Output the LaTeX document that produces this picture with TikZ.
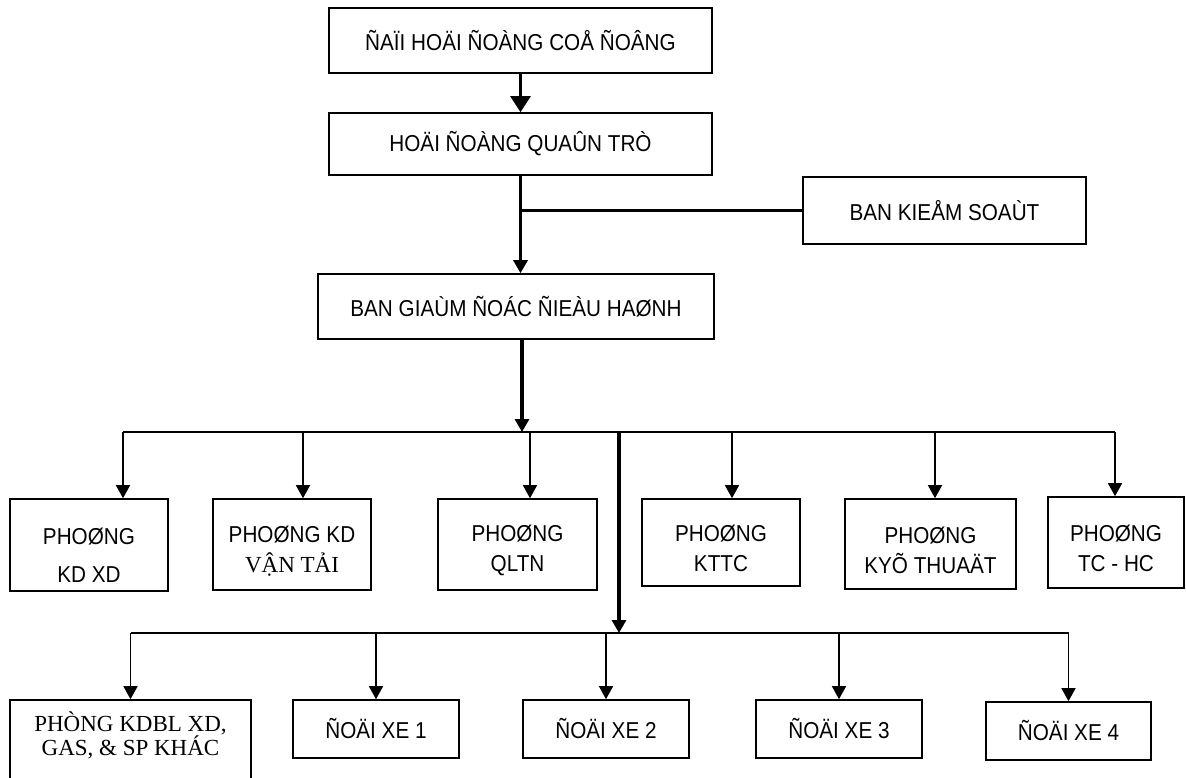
\documentclass[tikz,border=0pt]{standalone}
\usepackage{fontspec}
\setmainfont{Liberation Sans}[FakeStretch=0.9]
\newfontfamily\timesfont{Liberation Serif}
\usetikzlibrary{arrows.meta,positioning,calc}
\tikzset{
  unit/.style={draw,line width=1.6pt,inner sep=0pt,align=center,font=\fontsize{23}{30}\selectfont},
  twoline/.style={text height=59pt},
  link/.style={line width=1.5pt},
  trunk/.style={line width=3.2pt},
  tip/.style={-{Triangle[length=13pt,width=14pt]}},
}
\begin{document}
\begin{tikzpicture}[x=1pt,y=-1pt]
  \useasboundingbox (0,0) rectangle (1186,778);
  \node[unit,minimum width=383pt,minimum height=65pt] (dhcd) at (520.5,40.5) {ÑAÏI HOÄI ÑOÀNG COÅ ÑOÂNG};
  \node[unit,minimum width=383pt,minimum height=62pt] (hdqt) at (520.5,144) {HOÄI ÑOÀNG QUAÛN TRÒ};
  \node[unit,minimum width=283pt,minimum height=67pt] (bks) at (944.5,210.5) {BAN KIEÅM SOAÙT};
  \node[unit,minimum width=396pt,minimum height=65pt] (bgd) at (516,306.5) {BAN GIAÙM ÑOÁC ÑIEÀU HAØNH};

  \node[unit,text height=75pt,minimum width=158pt,minimum height=92pt] (kdxd) at (89,545) {PHOØNG\\[8pt]KD XD};
  \node[unit,twoline,minimum width=158pt,minimum height=91pt] (kdvt) at (292,544.5) {PHOØNG KD\\{\timesfont\fontsize{23}{30}\selectfont VẬN TẢI}};
  \node[unit,twoline,minimum width=159pt,minimum height=91pt] (qltn) at (517.5,544.5) {PHOØNG\\QLTN};
  \node[unit,twoline,minimum width=158pt,minimum height=87pt] (kttc) at (721,542.5) {PHOØNG\\KTTC};
  \node[unit,twoline,minimum width=171pt,minimum height=90pt] (kyt) at (930.5,544) {PHOØNG\\KYÕ THUAÄT};
  \node[unit,twoline,minimum width=136pt,minimum height=91pt] (tchc) at (1116,542.5) {PHOØNG\\TC - HC};

  \node[unit,minimum width=241pt,minimum height=94pt,font=\timesfont\fontsize{23}{21}\selectfont] (kdbl) at (130.5,747) {PHÒNG KDBL XD,\\GAS, \& SP KHÁC\\\strut};
  \node[unit,minimum width=166pt,minimum height=58pt] (dx1) at (376,729) {ÑOÄI XE 1};
  \node[unit,minimum width=166pt,minimum height=58pt] (dx2) at (606,729) {ÑOÄI XE 2};
  \node[unit,minimum width=166pt,minimum height=58pt] (dx3) at (839,729) {ÑOÄI XE 3};
  \node[unit,minimum width=165pt,minimum height=58pt] (dx4) at (1068.5,731) {ÑOÄI XE 4};

  \coordinate (bus1) at (522,432);
  \coordinate (bus2) at (619,633);
  \coordinate (kj) at (hdqt.south |- bks.west);

  \draw[line width=2.6pt,-{Triangle[length=16pt,width=20pt]}] (dhcd.south) -- (hdqt.north);
  \draw[trunk,tip] (hdqt.south) -- (hdqt.south |- bgd.north);
  \draw[trunk] (kj) -- (bks.west);
  \draw[trunk,tip] (bgd.south -| bus1) -- (bus1);

  \draw[link] ([xshift=34pt]kdxd.north |- bus1) -- ([xshift=-1pt]tchc.north |- bus1);
  \foreach \n/\dx in {kdxd/34,kdvt/11,qltn/12.5,kttc/11,kyt/4.5,tchc/-1}
    \draw[link,tip] ([xshift=\dx pt]\n.north |- bus1) -- ([xshift=\dx pt]\n.north);

  \draw[trunk,tip] (bus2 |- bus1) -- (bus2);
  \draw[link] (kdbl.north |- bus2) -- (dx4.north |- bus2);
  \foreach \n in {kdbl,dx1,dx2,dx3,dx4}
    \draw[link,tip] (\n.north |- bus2) -- (\n.north);
\end{tikzpicture}
\end{document}
